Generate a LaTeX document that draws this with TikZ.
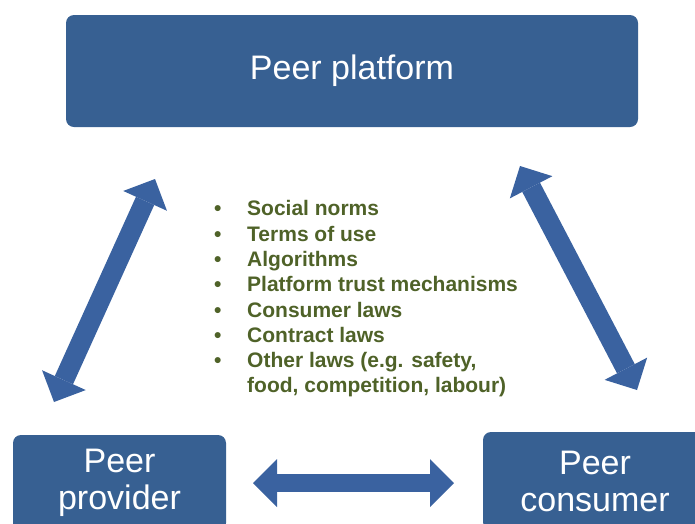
\documentclass[tikz,border=0pt]{standalone}
\usepackage{fontspec}
\setmainfont{Liberation Sans}
\usepackage{tikz}
\usetikzlibrary{arrows.meta}
\definecolor{boxblue}{HTML}{376092}
\definecolor{arrowblue}{HTML}{3A62A0}
\definecolor{rulegreen}{HTML}{4F6228}
\newcommand{\bul}{\makebox[33pt][l]{\textbullet}}
\newcommand{\nobul}{\hspace*{33pt}}

\begin{document}
\begin{tikzpicture}[x=1pt, y=-1pt,
    box/.style={fill=boxblue, rounded corners=8pt, text=white, align=center, font=\fontsize{34}{37}\selectfont},
    dbl/.style={arrowblue, line width=18pt, {Triangle[length=24pt,width=48pt,line width=0pt]}-{Triangle[length=24pt,width=48pt,line width=0pt]}}]
    \useasboundingbox (0,0) rectangle (695,523);
    \clip (0,0) rectangle (695,523);

    \node[box, minimum width=572pt, minimum height=112pt] (plat) at (352,71) {Peer platform};
    \node[box, minimum width=213pt, minimum height=96pt] (prov) at (119.5,483) {Peer\\provider};
    \node[box, minimum width=224pt, minimum height=98pt] (cons) at (595,481) {Peer\\consumer};

    \node[font=\fontsize{21}{25.3}\selectfont\bfseries, text=rulegreen, align=left, inner sep=0pt, anchor=west] (rules) at (214,299)
      {\bul Social norms\\ \bul Terms of use\\ \bul Algorithms\\ \bul Platform trust mechanisms\\
       \bul Consumer laws\\ \bul Contract laws\\ \bul Other laws (e.g. safety,\\ \nobul food, competition, labour)};

    \coordinate (provup) at (54,402);
    \coordinate (platleft) at (155,179);
    \coordinate (platright) at (520,166);
    \coordinate (consup) at (637,390);
    \coordinate (provright) at (253,483);
    \coordinate (consleft) at (454,483);

    \draw[dbl, line width=20pt] (provup) -- (platleft);
    \draw[dbl, line width=20pt] (platright) -- (consup);
    \draw[dbl] (provright) -- (consleft);
  \end{tikzpicture}
\end{document}
